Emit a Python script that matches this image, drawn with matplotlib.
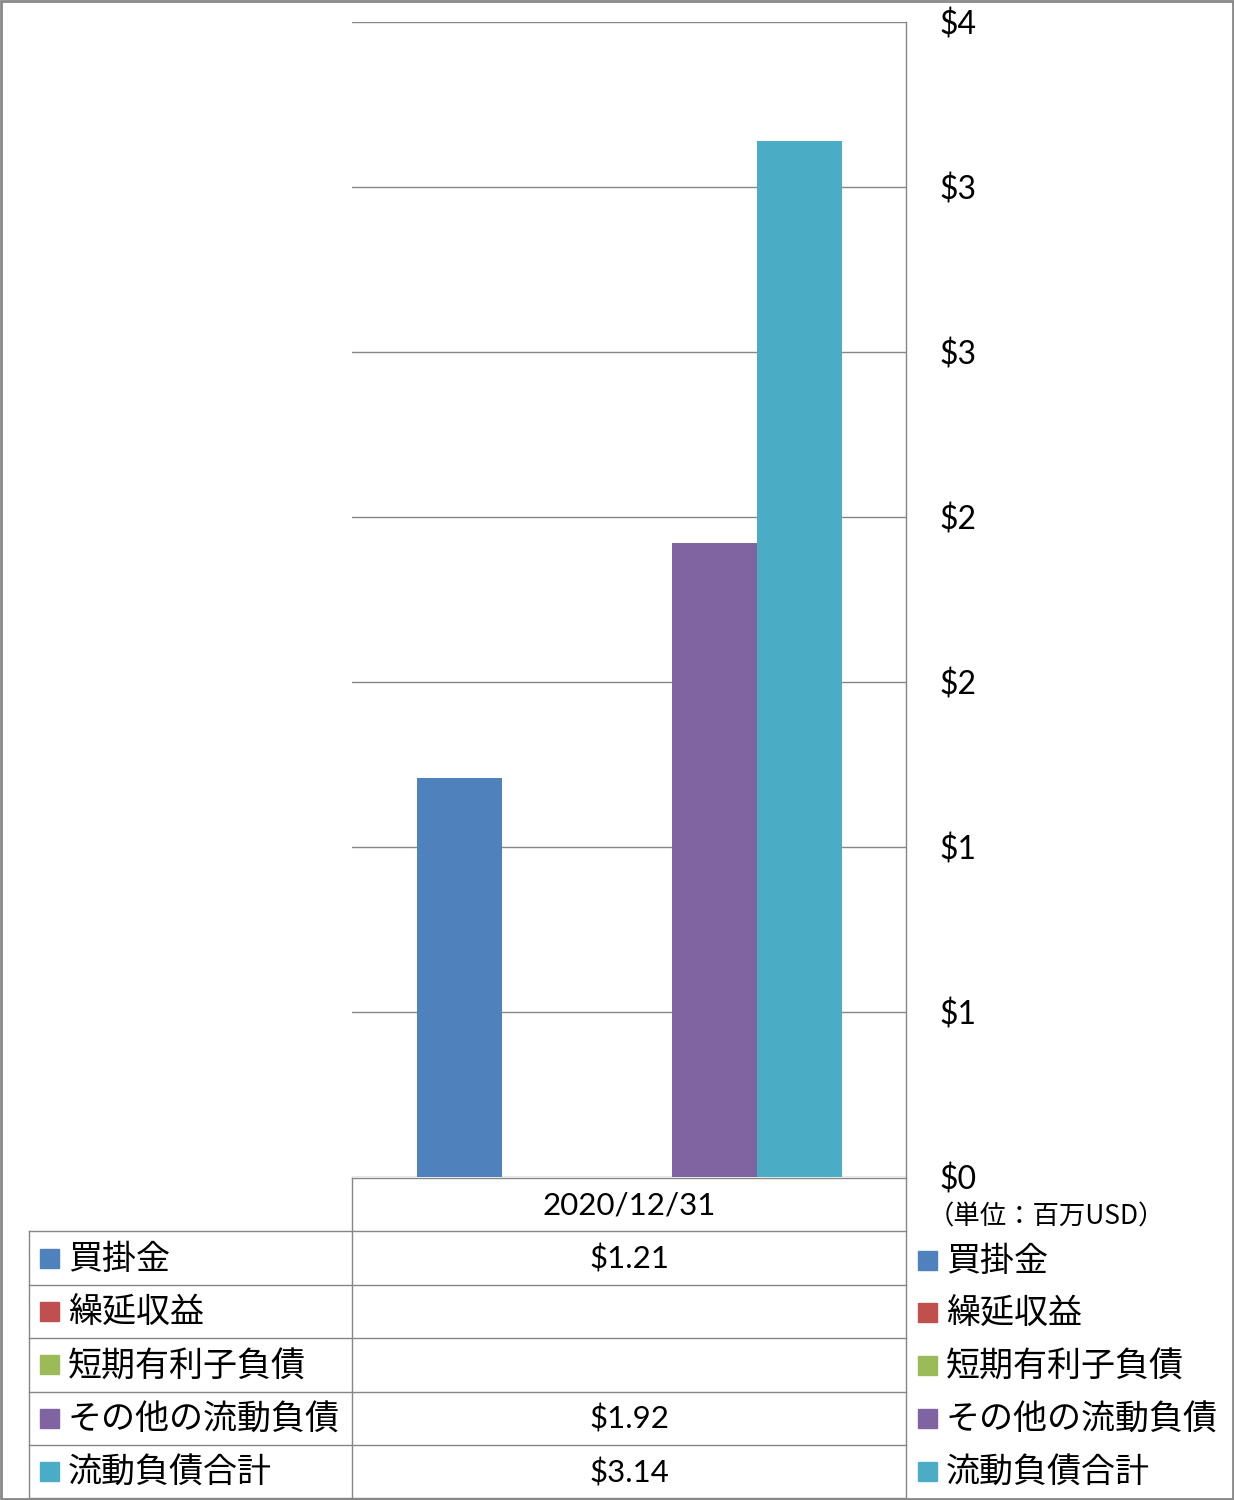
import math
import matplotlib
matplotlib.use("Agg")
import matplotlib.pyplot as plt
from matplotlib.patches import Rectangle
from matplotlib.lines import Line2D

# data
period = "2020/12/31"
series_names = ["買掛金", "繰延収益", "短期有利子負債", "その他の流動負債", "流動負債合計"]
series_values = [1.21, None, None, 1.92, 3.14]
series_colors = ["#4F81BD", "#C0504D", "#9BBB59", "#8064A2", "#4BACC6"]
unit_label = "（単位：百万USD）"
y_ticks = [0, 0.5, 1.0, 1.5, 2.0, 2.5, 3.0, 3.5]

JP = ["Noto Sans CJK JP", "DejaVu Sans"]
NUM = ["Lato", "DejaVu Sans"]
GRID = "#868686"

W, H = 1234, 1500
fig = plt.figure(figsize=(W / 100, H / 100), dpi=100)


def fx(px):
    return px / W


def fy(py):
    return 1 - py / H


# overlay for table / frame (pixel coordinates)
bg = fig.add_axes([0, 0, 1, 1])
bg.set_xlim(0, W)
bg.set_ylim(H, 0)
bg.axis("off")

# chart
left, right, top, bottom = 352, 906, 22, 1177
ax = fig.add_axes([fx(left), fy(bottom), fx(right - left), (bottom - top) / H])
ax.set_xlim(0, 1)
ax.set_ylim(0, 3.5)
bw = 85 / (right - left)
for i, (v, c) in enumerate(zip(series_values, series_colors)):
    if v is None:
        continue
    ax.bar(0.5 + (i - 2) * bw, v, width=bw, color=c, zorder=3)
ax.set_xticks([])
ax.yaxis.tick_right()
ax.set_yticks(y_ticks)
ax.set_yticklabels(["$%d" % math.floor(t + 0.5) for t in y_ticks],
                   fontfamily=NUM, fontsize=23)
ax.tick_params(axis="y", length=0, pad=24)
for lbl in ax.get_yticklabels():
    lbl.set_horizontalalignment("left")
ax.grid(axis="y", color=GRID, linewidth=1, zorder=0)
for s in ["left", "top", "bottom"]:
    ax.spines[s].set_visible(False)
ax.spines["right"].set_color(GRID)
ax.spines["right"].set_linewidth(1)

# data table
row_h = 53.4
hdr_top = 1178
tab_top = hdr_top + row_h
tab_bottom = 1498
lkw = dict(color=GRID, linewidth=1)
bg.add_line(Line2D([352, 906], [hdr_top, hdr_top], **lkw))
bg.add_line(Line2D([352, 352], [hdr_top, tab_bottom], **lkw))
bg.add_line(Line2D([906, 906], [hdr_top, tab_bottom], **lkw))
bg.add_line(Line2D([29, 29], [tab_top, tab_bottom], **lkw))
for k in range(len(series_names) + 1):
    yy = tab_top + k * row_h
    bg.add_line(Line2D([29, 906], [yy, yy], **lkw))
bg.text(629, hdr_top + row_h / 2 + 1, period, ha="center", va="center",
        fontfamily=NUM, fontsize=22.5)
for k, (name, v, c) in enumerate(zip(series_names, series_values, series_colors)):
    yc = tab_top + (k + 0.5) * row_h
    bg.add_patch(Rectangle((40, yc - 9.5), 19, 19, color=c))
    bg.text(68, yc + 1, name, ha="left", va="center", fontfamily=JP, fontsize=24.5)
    if v is not None:
        bg.text(629, yc + 1, "$%.2f" % v, ha="center", va="center",
                fontfamily=NUM, fontsize=22.5)

# unit label
bg.text(928, 1217, unit_label, ha="left", va="center", fontfamily=JP, fontsize=19)

# legend on right
for k, (name, c) in enumerate(zip(series_names, series_colors)):
    yc = 1260 + k * 52.8
    bg.add_patch(Rectangle((918, yc - 9.5), 19, 19, color=c))
    bg.text(946, yc + 1, name, ha="left", va="center", fontfamily=JP, fontsize=24.5)

# outer frame
bg.add_patch(Rectangle((1, 1), W - 2, H - 2, fill=False, edgecolor="#888888", linewidth=2))

fig.savefig("out.png", dpi=100)
